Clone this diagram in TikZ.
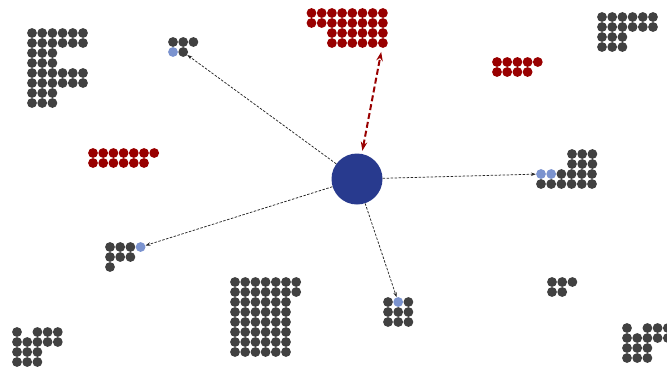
\documentclass[tikz,border=0pt]{standalone}
\usetikzlibrary{arrows.meta}

\definecolor{beadgray}{HTML}{414141}
\definecolor{beadred}{HTML}{990000}
\definecolor{beadblue}{HTML}{7B93CF}
\definecolor{hubblue}{HTML}{283A8E}

% a row of #4 beads starting at (#2,#3)
\newcommand{\beads}[4][beadgray]{%
  \foreach \k in {1,...,#4} \fill[#1] ({#2+10.2*(\k-1)},#3) circle (4.9pt);}

\tikzset{
  bead/.style={circle, fill=beadgray, inner sep=0pt, minimum size=9.8pt},
  redbead/.style={bead, fill=beadred},
  bluebead/.style={bead, fill=beadblue},
  hub/.style={circle, fill=hubblue, inner sep=0pt, minimum size=51pt},
  link/.style={->, >={Stealth[length=5pt,width=3.5pt]}, draw=black!85,
    line width=0.75pt, dash pattern=on 2.5pt off 1.5pt},
  redlink/.style={{Stealth[length=9pt,width=6.5pt]}-{Stealth[length=9pt,width=6.5pt]},
    draw=beadred, line width=2pt, dash pattern=on 6pt off 3pt,
    shorten <=3pt, shorten >=4pt}
}

\begin{document}
\begin{tikzpicture}[x=1pt, y=-1pt]
  \useasboundingbox (0,0) rectangle (667,368);

  % top left F
  \beads{32}{33}{6} \beads{32}{43}{6}
  \beads{32}{53}{3} \beads{32}{63}{3}
  \beads{32}{73}{6} \beads{32}{83}{6}
  \beads{32}{93}{3} \beads{32}{103}{3}

  % small group, top
  \beads{173}{42}{3}
  \beads[beadblue]{173}{52}{1}
  \node[bead] (tl) at (183.2,52) {};

  % red block, top
  \beads[beadred]{311.5}{13}{8} \beads[beadred]{311.5}{23}{8}
  \beads[beadred]{331.9}{33}{6} \beads[beadred]{331.9}{43}{5}
  \node[redbead] (tp) at (382.9,43) {};

  % red, top right
  \beads[beadred]{497}{62}{5} \beads[beadred]{497}{72}{4}

  % top right
  \beads{602}{17}{6} \beads{602}{27}{6}
  \beads{602}{37}{3} \beads{602}{47}{3}

  % red, left
  \beads[beadred]{93}{153}{7} \beads[beadred]{93}{163}{6}

  % right group
  \beads{572}{154}{3} \beads{572}{164}{3}
  \node[bluebead] (rt) at (541,174) {};
  \beads[beadblue]{551.2}{174}{1}
  \beads{561.4}{174}{4}
  \beads{541}{184}{6}

  % left group
  \beads{110}{247}{3}
  \node[bluebead] (lf) at (140.6,247) {};
  \beads{110}{257}{3} \beads{110}{267}{1}

  % bottom left
  \beads{17}{332}{1} \beads{37.4}{332}{3}
  \beads{17}{342}{5}
  \beads{17}{352}{3} \beads{17}{362}{3}

  % big block, bottom
  \beads{235}{282}{7} \beads{235}{292}{7}
  \foreach \r in {302,312,...,352} {\beads{235}{\r}{6}}

  % bottom middle
  \beads{388}{302}{1}
  \node[bluebead] (bt) at (398.2,302) {};
  \beads{408.4}{302}{1}
  \beads{388}{312}{3} \beads{388}{322}{3}

  % bottom right small
  \beads{552}{282}{3} \beads{552}{292}{2}

  % bottom right corner
  \beads{627}{328}{1} \beads{647.4}{328}{3}
  \beads{627}{338}{5}
  \beads{627}{348}{3} \beads{627}{358}{3}

  \node[hub] (core) at (357,179) {};

  \draw [link] (core) -- (tl);
  \draw [link] (core) -- (rt);
  \draw [link] (core) -- (lf);
  \draw [link] (core) -- (bt);
  \draw [redlink] (core) -- (tp);
\end{tikzpicture}
\end{document}
